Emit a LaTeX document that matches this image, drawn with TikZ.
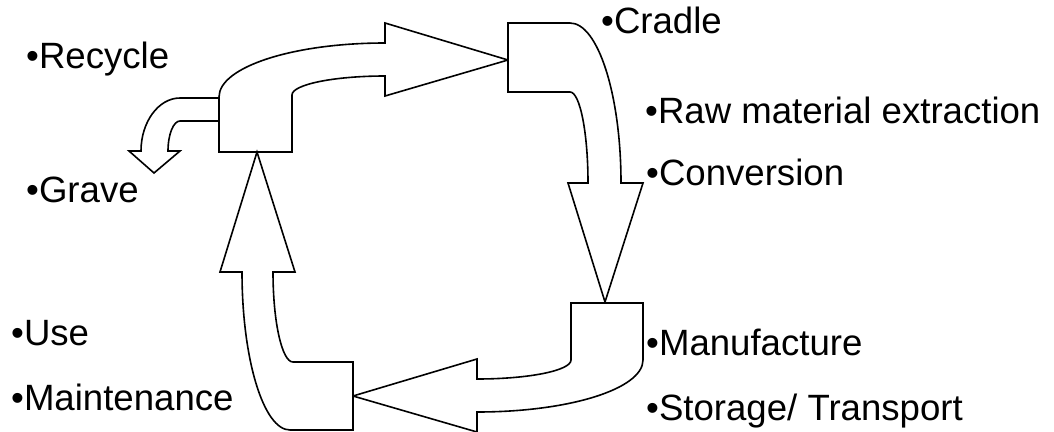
\documentclass[tikz,border=0pt]{standalone}
\usepackage{fontspec}
\setmainfont{Liberation Sans}

\begin{document}
\begin{tikzpicture}[
  x=1pt, y=-1pt,
  blk/.style={draw, line width=1.6pt, fill=white, line join=miter},
  lbl/.style={inner sep=0pt, anchor=base west, font=\fontsize{36.6}{43}\selectfont},
]
\useasboundingbox (0,0) rectangle (1054,431);
\node[lbl] (recycle) at (26,68) {•Recycle};
\node[lbl] (cradle) at (601,33) {•Cradle};
\node[lbl] (raw) at (645,123) {•Raw material extraction};
\node[lbl] (conversion) at (646,185) {•Conversion};
\node[lbl] (grave) at (26,202) {•Grave};
\node[lbl] (use) at (11,345) {•Use};
\node[lbl] (maint) at (11,410) {•Maintenance};
\node[lbl] (manuf) at (646,355) {•Manufacture};
\node[lbl] (storage) at (646,420) {•Storage/ Transport};
\draw[blk] (219,121) -- (180,121) .. controls (173.4,121) and (168,134.5) .. (168,151)
  -- (180,151) -- (154,173) -- (129,151) -- (141,151)
  .. controls (141,122) and (158.5,98) .. (180,98) -- (219,98) -- cycle;
\draw[blk] (219,152) -- (292,152) -- (292,95)
  .. controls (292,84.5) and (334,76) .. (385,76) -- (385,96) -- (508,60)
  -- (385,23) -- (385,43) .. controls (293,43) and (219,67) .. (219,97) -- cycle;
\draw[blk] (508,92) -- (508,23) -- (570,23)
  .. controls (598,23) and (621,95) .. (621,183) -- (643,183) -- (605,302)
  -- (568,183) -- (588,183) .. controls (588,133) and (580,92) .. (570,92) -- cycle;
\draw[blk] (571,303) -- (643,303) -- (643,360)
  .. controls (643,389) and (569,412) .. (477,412) -- (477,432) -- (353,396)
  -- (477,359) -- (477,379) .. controls (529,379) and (571,370.5) .. (571,360) -- cycle;
\draw[blk] (353,430) -- (353,362) -- (293,362)
  .. controls (282,362) and (273,322) .. (273,272) -- (295,272) -- (257,152)
  -- (220,272) -- (242,272) .. controls (242,359) and (263.5,430) .. (290,430) -- cycle;
\end{tikzpicture}
\end{document}
